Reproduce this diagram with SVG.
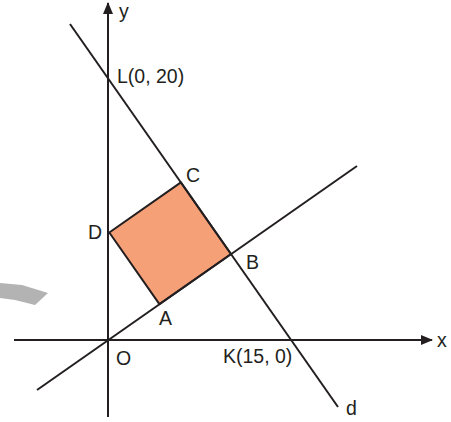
<svg xmlns="http://www.w3.org/2000/svg" width="451" height="422" viewBox="0 0 451 422">
<style>
.ln{stroke:#231f20;stroke-width:2;fill:none}
.lb{font-family:"Liberation Sans",Arial,sans-serif;font-size:19.5px;fill:#231f20}
</style>
<defs>
<marker id="ah" viewBox="0 0 12 10" refX="11" refY="5" markerWidth="12" markerHeight="10" markerUnits="userSpaceOnUse" orient="auto">
<path d="M0,0 L12,5 L0,10 Z" fill="#231f20"/>
</marker>
</defs>
<rect width="451" height="422" fill="#ffffff"/>
<polygon points="0,283 22,285 48,293 35,305 15,300 0,298" fill="#b3b3b3"/>
<g id="square">
<polygon points="109.3,232.5 180.9,182.4 231,254 159.4,304.1" fill="#f5a077" stroke="#231f20" stroke-width="2" stroke-linejoin="round"/>
</g>
<g id="connectors">
<line class="ln" x1="14" y1="340" x2="432" y2="340" marker-end="url(#ah)"/>
<line class="ln" x1="108" y1="417" x2="108" y2="3" marker-end="url(#ah)"/>
<line class="ln" x1="70" y1="24" x2="338" y2="407"/>
<line class="ln" x1="37" y1="390" x2="357" y2="166"/>
</g>
<g id="labels">
<text class="lb" x="119" y="18">y</text>
<text class="lb" x="437" y="347">x</text>
<text class="lb" x="117" y="83">L(0, 20)</text>
<text class="lb" x="223" y="363">K(15, 0)</text>
<text class="lb" x="346" y="415">d</text>
<text class="lb" x="186" y="182">C</text>
<text class="lb" x="88" y="239">D</text>
<text class="lb" x="246" y="269">B</text>
<text class="lb" x="159" y="325">A</text>
<text class="lb" x="116" y="365">O</text>
</g>
</svg>
